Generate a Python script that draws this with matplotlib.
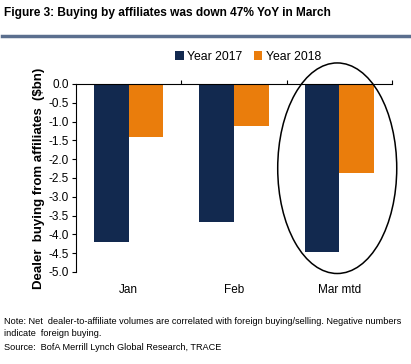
import matplotlib
matplotlib.use("Agg")
import matplotlib.pyplot as plt
from matplotlib.patches import Ellipse
import numpy as np

categories = ["Jan", "Feb", "Mar mtd"]
series_names = ["Year 2017", "Year 2018"]
values_2017 = [-4.21, -3.68, -4.48]
values_2018 = [-1.42, -1.13, -2.38]
yticks = [0.0, -0.5, -1.0, -1.5, -2.0, -2.5, -3.0, -3.5, -4.0, -4.5, -5.0]

navy = "#12294f"
orange = "#ea7d0c"

plt.rcParams['font.family'] = ['Liberation Sans', 'DejaVu Sans']

fig = plt.figure(figsize=(4.11, 3.64), dpi=100)
ax = fig.add_axes([76/411, 1-272/364, (392-76)/411, (272-84)/364])

x = np.arange(len(categories))
w = 0.33
ax.bar(x - w/2, values_2017, width=w, color=navy, label=series_names[0])
ax.bar(x + w/2, values_2018, width=w, color=orange, label=series_names[1])

ax.set_xlim(-0.5, 2.5)
ax.set_ylim(-5.0, 0.0)
ax.set_yticks(yticks)
ax.set_yticklabels([f"{v:.1f}" for v in yticks], fontsize=8.5)
ax.tick_params(axis='y', direction='out', length=3, width=0.8, pad=2)

ax.spines['bottom'].set_visible(False)
ax.spines['right'].set_visible(False)
ax.spines['top'].set_linewidth(0.8)
ax.spines['left'].set_linewidth(0.8)
ax.xaxis.set_ticks_position('top')
ax.set_xticks([0.5, 1.5, 2.5])
ax.set_xticklabels([])
ax.tick_params(axis='x', direction='out', length=3, width=0.8)
for xi, c in zip(x, categories):
    ax.text(xi, -5.48, c, ha='center', va='center', fontsize=8.5)

ax.set_ylabel("Dealer  buying from affiliates  ($bn)", fontsize=9.5,
              fontweight='bold', labelpad=3)

ell = Ellipse((2.0 - 0.02, -2.24), width=1.13, height=5.6, fill=False,
              edgecolor='black', linewidth=1.1, clip_on=False)
ax.add_patch(ell)

leg = ax.legend(loc='center', bbox_to_anchor=(0.545, 1.145), ncol=2,
                frameon=False, fontsize=8.8, handlelength=0.7, handleheight=0.7,
                handletextpad=0.3, columnspacing=0.9, borderaxespad=0)

fig.text(4/411, 1-13/364, "Figure 3: Buying by affiliates was down 47% YoY in March",
         fontsize=8.6, fontweight='bold', va='center', ha='left')
fig.add_artist(plt.Line2D([2/411, 1], [1-36/364, 1-36/364], color="#5b6f8e",
                          linewidth=2.5, transform=fig.transFigure))

fig.text(4/411, 1-322/364,
         "Note: Net  dealer-to-affiliate volumes are correlated with foreign buying/selling. Negative numbers",
         fontsize=6.6, va='center', ha='left')
fig.text(4/411, 1-334/364, "indicate  foreign buying.", fontsize=6.6, va='center', ha='left')
fig.text(4/411, 1-347/364, "Source:  BofA Merrill Lynch Global Research, TRACE",
         fontsize=6.6, va='center', ha='left')

fig.savefig("out.png", dpi=100)
